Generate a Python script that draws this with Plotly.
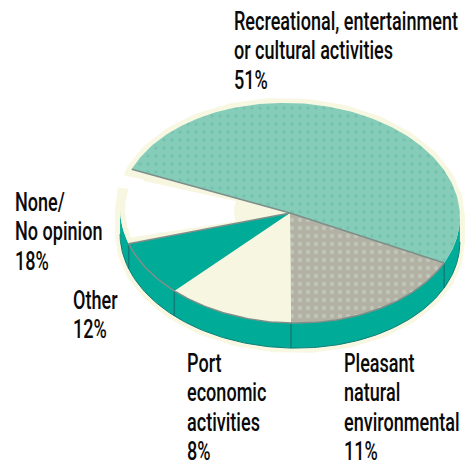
import math
import plotly.graph_objects as go

# Survey answers, in the order the wedges run clockwise round the disc
categories = ["Recreational, entertainment or cultural activities", "None/No opinion",
              "Other", "Port economic activities", "Pleasant natural environmental"]
values = [51, 18, 12, 8, 11]
label_lines = [
    ["Recreational, entertainment", "or cultural activities"],
    ["None/", "No opinion"],
    ["Other"],
    ["Port", "economic", "activities"],
    ["Pleasant", "natural", "environmental"],
]

# Styling and layout
CANVAS_W, CANVAS_H = 468, 465
CX, CY, RX, RY = 290, 213, 170, 110
TILT = math.radians(2.3)
DEPTH = 25
START_ANGLE = 199.8
INK = "#0a0a0a"
HALO = "#f8f7e1"
RIM = "#00ab98"
RIM_DARK = "#0d7f78"
EDGE = "#7e8f8a"
FONT = "Roboto"
FONT_SIZE = 26
FONT_WEIGHT = 500
TEXT_SQUEEZE = 0.695
LINE_STEP = 29.3
wedge_styles = [
    dict(fill="#86cdb9", dots="#74c3af", size=8, solidity=0.14),
    dict(fill="#b2b1a3", dots="#bfc5b8", size=8, solidity=0.24),
    dict(fill="#f7f6e0", dots=None),
    dict(fill="#00ab98", dots=None),
    dict(fill="#f7f6e0", dots=None),
]
label_anchors = [(232.5, 30), (13.5, 211), (71.5, 309), (185.5, 372), (342.5, 372)]


def project(angle, radius=1.0, drop=0.0):
    """Disc angle in degrees (clockwise from the right) to canvas position."""
    t = math.radians(angle)
    a, b = RX * radius * math.cos(t), RY * radius * math.sin(t)
    return (CX + a * math.cos(TILT) - b * math.sin(TILT),
            CY + a * math.sin(TILT) + b * math.cos(TILT) + drop)


def arc(start, end, radius=1.0, drop=0.0):
    steps = max(2, int(abs(end - start)))
    return [project(start + (end - start) * i / steps, radius, drop) for i in range(steps + 1)]


def path(fig, points, **kwargs):
    fig.add_trace(go.Scatter(x=[p[0] for p in points], y=[p[1] for p in points],
                             hoverinfo="skip", showlegend=False, **kwargs))


def filled(fig, points, color, pattern=None):
    path(fig, points + points[:1], mode="lines", line=dict(width=0), fill="toself",
         fillcolor=color, fillpattern=pattern)


# Wedge limits from the shares
edges = [START_ANGLE]
for v in values:
    edges.append(edges[-1] + v / sum(values) * 360)
edges_mod = [e % 360 for e in edges]

fig = go.Figure()

# Pale printed halo round the whole silhouette
right_x = -1.5
left_x = 178.5
outline = arc(right_x, left_x, drop=DEPTH) + arc(left_x, right_x + 360)
path(fig, outline + outline[:2], mode="lines", line=dict(color=HALO, width=10))
filled(fig, outline, HALO)

# Side wall of the disc
filled(fig, arc(right_x, left_x) + arc(left_x, right_x, drop=DEPTH), RIM)
path(fig, arc(right_x, left_x, drop=DEPTH), mode="lines", line=dict(color=RIM_DARK, width=1))

# Top face
for i, style in enumerate(wedge_styles):
    pattern = None
    if style["dots"]:
        pattern = dict(shape=".", fgcolor=style["dots"], bgcolor=style["fill"],
                       size=style["size"], solidity=style["solidity"], fillmode="replace")
    filled(fig, [(CX, CY)] + arc(edges[i], edges[i + 1]), style["fill"], pattern)

# Seams on the side wall where the wedges meet
for e in edges_mod[1:5]:
    path(fig, [project(e), project(e, drop=DEPTH)], mode="lines",
         line=dict(color=RIM_DARK, width=1.5))

# Rim and spokes on the upper part of the disc
path(fig, arc(edges[4], edges[1]), mode="lines", line=dict(color=EDGE, width=1.5))
for e in (edges[0], edges[1], edges[4]):
    path(fig, [(CX, CY), project(e)], mode="lines", line=dict(color=EDGE, width=1.6))

# White highlight inside the last wedge, breaking the rim where it reaches the edge
hi_a, hi_b = edges[4] + 3, edges[5] - 4.5
filled(fig, arc(hi_a, hi_b, radius=0.97) + arc(hi_b, hi_a, radius=0.33), "#ffffff")
filled(fig, arc(189.5, 196, radius=1.12) + arc(196, 189.5, radius=0.9), "#ffffff")

# Labels, one annotation per printed line
annotations = []
for lines, value, (x, baseline) in zip(label_lines, values, label_anchors):
    for row, text in enumerate(lines + [f"{value}%"]):
        annotations.append(dict(x=x, y=baseline + row * LINE_STEP - 9, text=text, showarrow=False,
                                xanchor="left", yanchor="middle", align="left", xref="x", yref="y",
                                borderpad=0,
                                font=dict(family=FONT, size=FONT_SIZE, color=INK, weight=FONT_WEIGHT)))

fig.update_layout(
    width=CANVAS_W, height=CANVAS_H, margin=dict(l=0, r=0, t=0, b=0),
    paper_bgcolor="#ffffff", plot_bgcolor="#ffffff", annotations=annotations,
    xaxis=dict(range=[0, CANVAS_W], visible=False, fixedrange=True),
    yaxis=dict(range=[CANVAS_H, 0], visible=False, fixedrange=True),
)

# Condense the label type horizontally, keeping each line's left edge in place
condense_labels = """
var plot = document.getElementById('{plot_id}');
plot.querySelectorAll('text.annotation-text').forEach(function (el) {
    var left = el.getBBox().x;
    var own = el.getAttribute('transform') || '';
    el.setAttribute('transform', 'translate(' + left + ',0) scale(%s,1) translate(' + (-left) + ',0) ' + own);
});
""" % TEXT_SQUEEZE
fig.write_html("out.html", config=dict(displayModeBar=False), post_script=condense_labels)
